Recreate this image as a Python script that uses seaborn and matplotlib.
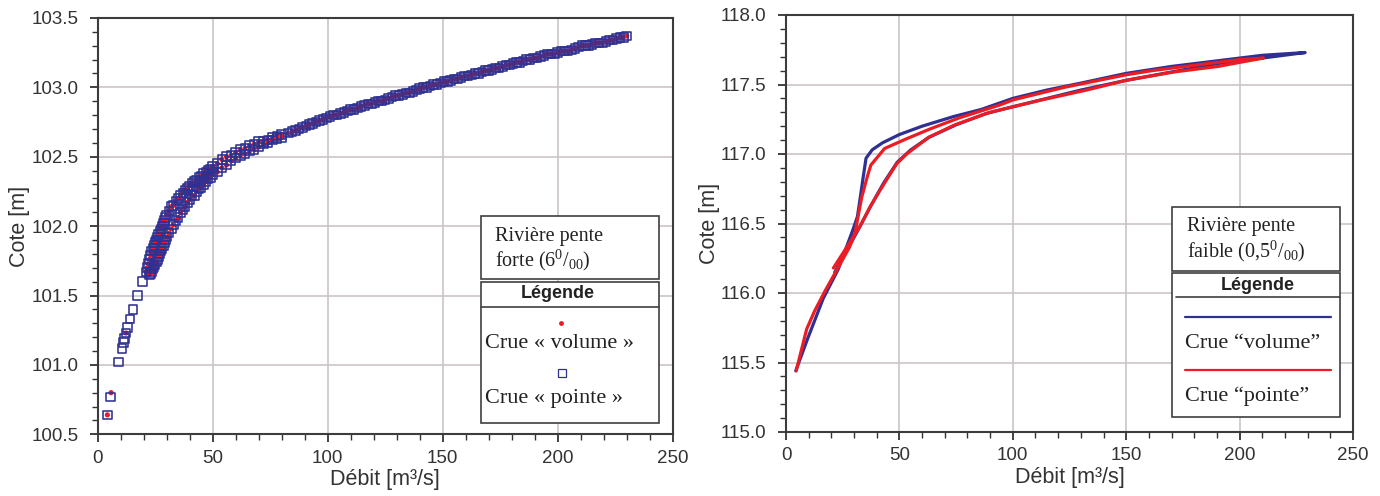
"""
rating curves: Cote vs Débit, steep river (points) and gentle river (loops)
"""

import matplotlib

matplotlib.use("Agg")
import matplotlib.pyplot as plt
import pandas as pd
import seaborn as sns
from matplotlib.lines import Line2D
from matplotlib.patches import Rectangle
from matplotlib.ticker import FormatStrFormatter, MultipleLocator

########
# Data #
########

# steep river, rising limb (upper / left side of the band)
rise_q = [21.0, 21.5, 22.0, 22.5, 23.0, 23.5, 24.0, 24.5, 25.0, 25.5, 26.0, 26.5,
          27.0, 27.5, 28.0, 28.5, 29.0, 29.5, 30.0,
          31, 32, 33, 34, 35, 36, 37, 38, 39, 40, 41, 42, 43, 44, 45, 46, 47, 48, 49, 50,
          52, 54, 56, 58, 60, 62, 64, 66, 68, 70, 72, 74, 76, 78, 80,
          83, 86, 89, 92, 95, 98, 101, 104, 107, 110, 113, 116, 119, 122, 125, 128,
          131, 134, 137, 140, 143, 146, 149, 152, 155, 158, 161, 164, 167, 170, 173,
          176, 179, 182, 185, 188, 191, 194, 197, 200, 203, 206, 209, 212, 215, 218,
          221, 224, 227, 230]
rise_z = [101.67, 101.70, 101.73, 101.76, 101.79, 101.82, 101.84, 101.86, 101.88,
          101.90, 101.92, 101.94, 101.96, 101.98, 102.00, 102.02, 102.04, 102.06, 102.08,
          102.11, 102.14, 102.15, 102.18, 102.20, 102.22, 102.24, 102.26, 102.27, 102.29,
          102.31, 102.32, 102.33, 102.35, 102.36, 102.38, 102.39, 102.40, 102.41, 102.43,
          102.45, 102.48, 102.50, 102.51, 102.53, 102.55, 102.56, 102.58, 102.59, 102.61,
          102.61, 102.62, 102.64, 102.65, 102.66,
          102.67, 102.69, 102.71, 102.73, 102.75, 102.77, 102.79, 102.80, 102.82, 102.84,
          102.85, 102.87, 102.88, 102.90, 102.91, 102.93, 102.94, 102.96, 102.97, 102.99,
          103.00, 103.02, 103.03, 103.04, 103.06, 103.07, 103.08, 103.10, 103.11, 103.12,
          103.14, 103.15, 103.16, 103.18, 103.19, 103.20, 103.21, 103.23, 103.24, 103.25,
          103.26, 103.27, 103.29, 103.30, 103.31, 103.32, 103.33, 103.34, 103.36, 103.37]

# steep river, falling limb (lower / right side of the band)
fall_q = [22.5, 23.0, 23.5, 24.0, 24.5, 25.0, 25.5, 26.0, 26.5, 27.0, 27.5, 28.0,
          28.5, 29.0, 29.5, 30.0,
          31, 32, 33, 34, 35, 36, 37, 38, 39, 40, 41, 42, 43, 44, 45, 46, 47, 48, 49, 50,
          52, 54, 56, 58, 60, 62, 64, 66, 68, 70, 72, 74, 76, 78, 80,
          84.5, 87.5, 90.5, 93.5, 96.5, 99.5, 102.5, 105.5, 108.5, 111.5, 114.5, 117.5,
          120.5, 123.5, 126.5, 129.5, 132.5, 135.5, 138.5, 141.5, 144.5, 147.5, 150.5,
          153.5, 156.5, 159.5, 162.5, 165.5, 168.5, 171.5, 174.5, 177.5, 180.5, 183.5,
          186.5, 189.5, 192.5, 195.5, 198.5, 201.5, 204.5, 207.5, 210.5, 213.5, 216.5,
          219.5, 222.5, 225.5, 228.5]
fall_z = [101.65, 101.66, 101.67, 101.69, 101.71, 101.72, 101.74, 101.76, 101.78,
          101.80, 101.82, 101.84, 101.86, 101.88, 101.90, 101.92,
          101.95, 101.98, 102.01, 102.04, 102.06, 102.10, 102.12, 102.14, 102.17, 102.19,
          102.22, 102.22, 102.25, 102.27, 102.28, 102.30, 102.32, 102.34, 102.35, 102.37,
          102.39, 102.42, 102.44, 102.47, 102.49, 102.51, 102.52, 102.54, 102.55, 102.57,
          102.59, 102.60, 102.62, 102.63, 102.64,
          102.68, 102.70, 102.72, 102.74, 102.76, 102.78, 102.80, 102.81, 102.83, 102.84,
          102.86, 102.88, 102.89, 102.90, 102.92, 102.94, 102.95, 102.96, 102.98, 103.00,
          103.01, 103.02, 103.04, 103.05, 103.06, 103.08, 103.09, 103.10, 103.12, 103.13,
          103.14, 103.16, 103.17, 103.18, 103.20, 103.21, 103.22, 103.24, 103.24, 103.26,
          103.26, 103.28, 103.30, 103.30, 103.32, 103.32, 103.34, 103.35, 103.36]

# steep river, low-flow points
vol_q_low = [4.2, 5.8, 12.3]
vol_z_low = [100.64, 100.80, 101.23]
pte_q_low = [4.2, 5.6, 9.1, 10.6, 11.1, 11.7, 12.3, 12.9, 14.0, 15.3, 17.4, 19.6]
pte_z_low = [100.64, 100.77, 101.02, 101.12, 101.16, 101.19, 101.23, 101.27, 101.33,
             101.40, 101.50, 101.60]

# gentle river, rising then falling limb
loop_vol_q = [4.3, 9.5, 16.4, 23.0, 29.4, 31.5, 32.6, 34.0, 35.3, 38.0, 42.5, 50.0,
              60.0, 74.0, 86.0, 100.0, 115.0, 130.0, 150.0, 170.0, 190.0, 210.0, 228.9,
              210.0, 190.0, 170.0, 150.0, 130.0, 115.0, 100.0, 88.0, 75.0, 63.0, 55.0,
              49.0, 43.0, 37.5, 33.0, 27.0, 21.5]
loop_vol_z = [115.44, 115.67, 115.96, 116.17, 116.45, 116.55, 116.67, 116.83, 116.97,
              117.03, 117.08, 117.14, 117.20, 117.27, 117.32, 117.40, 117.46, 117.51,
              117.58, 117.63, 117.67, 117.71, 117.73,
              117.69, 117.65, 117.59, 117.53, 117.46, 117.40, 117.34, 117.29, 117.21,
              117.12, 117.03, 116.94, 116.79, 116.63, 116.49, 116.31, 116.15]
loop_pte_q = [4.5, 9.1, 12.6, 17.4, 22.2, 28.0, 30.4, 33.4, 35.9, 37.4, 43.5, 53.2,
              63.5, 76.4, 93.8, 100.3, 122.8, 150.0, 161.5, 180.9, 200.3, 210.5,
              200.3, 190.5, 171.0, 150.0, 132.5, 113.0, 100.3, 90.0, 74.5, 62.9, 53.2,
              48.8, 41.5, 37.1, 32.6, 26.8, 20.9]
loop_pte_z = [115.44, 115.74, 115.87, 116.02, 116.16, 116.33, 116.43, 116.69, 116.84,
              116.92, 117.04, 117.11, 117.18, 117.26, 117.35, 117.39, 117.48, 117.57,
              117.60, 117.64, 117.68, 117.69,
              117.66, 117.63, 117.59, 117.53, 117.46, 117.39, 117.34, 117.30, 117.21,
              117.12, 117.00, 116.93, 116.74, 116.62, 116.48, 116.33, 116.18]

steepVol = pd.DataFrame({"q": vol_q_low + rise_q + fall_q,
                         "z": vol_z_low + rise_z + fall_z})
steepPte = pd.DataFrame({"q": pte_q_low + rise_q + fall_q,
                         "z": pte_z_low + rise_z + fall_z})
gentleVol = pd.DataFrame({"q": loop_vol_q, "z": loop_vol_z})
gentlePte = pd.DataFrame({"q": loop_pte_q, "z": loop_pte_z})

#########
# Style #
#########

BLUE = "#2e3192"
RED = "#ec1c24"
GRID = "#cdc5c5"
INK = "#333333"
W, H = 1380, 496

sns.set_style("white")
plt.rcParams["font.family"] = ["Liberation Sans", "DejaVu Sans"]
plt.rcParams["mathtext.fontset"] = "custom"
plt.rcParams["mathtext.rm"] = "Liberation Serif"
plt.rcParams["mathtext.it"] = "Liberation Serif:italic"
plt.rcParams["mathtext.bf"] = "Liberation Serif:bold"

fig = plt.figure(figsize=(W / 100, H / 100), dpi=100)
ax1 = fig.add_axes([97.7 / W, 1 - 434.3 / H, 575 / W, 416.4 / H])
ax2 = fig.add_axes([786 / W, 1 - 432 / H, 567 / W, 417 / H])


def style_axis(ax, ylim):
    ax.set_xlim(0, 250)
    ax.set_ylim(*ylim)
    ax.xaxis.set_major_locator(MultipleLocator(50))
    ax.xaxis.set_minor_locator(MultipleLocator(10))
    ax.yaxis.set_major_locator(MultipleLocator(0.5))
    ax.yaxis.set_minor_locator(MultipleLocator(0.1))
    ax.yaxis.set_major_formatter(FormatStrFormatter("%.1f"))
    ax.set_axisbelow(True)
    ax.grid(True, which="major", color=GRID, lw=1.2)
    ax.tick_params(which="major", direction="out", length=6, width=1.3, color=INK,
                   labelsize=13.5, labelcolor=INK, left=True, bottom=True)
    ax.tick_params(which="minor", direction="out", length=4, width=1.0, color=INK,
                   left=True, bottom=True)
    ax.tick_params(axis="x", pad=5)
    ax.tick_params(axis="y", pad=8)
    for sp in ax.spines.values():
        sp.set_color("#3c3c3c")
        sp.set_linewidth(1.5)
    ax.set_xlabel("Débit [m³/s]", fontsize=15.5, color=INK, labelpad=2)
    ax.set_ylabel("Cote [m]", fontsize=15.5, color=INK, labelpad=1)


#########
# Plots #
#########

sns.scatterplot(data=steepVol, x="q", y="z", ax=ax1, marker="o", s=14,
                color=RED, edgecolor="none", zorder=3)
sns.scatterplot(data=steepPte, x="q", y="z", ax=ax1, marker="s", s=38,
                facecolor="none", edgecolor=BLUE, linewidth=1.15, zorder=4)
style_axis(ax1, (100.5, 103.5))

sns.lineplot(data=gentleVol, x="q", y="z", ax=ax2, sort=False, estimator=None,
             color=BLUE, lw=2.3, zorder=3)
sns.lineplot(data=gentlePte, x="q", y="z", ax=ax2, sort=False, estimator=None,
             color=RED, lw=2.3, zorder=4)
style_axis(ax2, (115.0, 118.0))


# boxes drawn in figure pixels
def box(x0, y0, x1, y1):
    fig.add_artist(Rectangle((x0 / W, 1 - y1 / H), (x1 - x0) / W, (y1 - y0) / H,
                             transform=fig.transFigure, facecolor="white",
                             edgecolor="#404040", lw=1.2, zorder=5))


def hline(x0, x1, y, **kw):
    fig.add_artist(Line2D([x0 / W, x1 / W], [1 - y / H, 1 - y / H],
                          transform=fig.transFigure, zorder=6, **kw))


def txt(x, y, s, **kw):
    fig.text(x / W, 1 - y / H, s, zorder=7, va="center", color="#222222", **kw)


serif = dict(family="Liberation Serif")

# left legend
box(480.7, 215.7, 659, 279)
txt(495, 236, "Rivière pente", fontsize=14.5, **serif)
txt(495, 260, "forte (6$^{0}$/$_{00}$)", fontsize=14.5, **serif)
box(480.7, 281.7, 659, 422.7)
hline(480.7, 659, 306.7, color="#404040", lw=1.2)
txt(558, 293.5, "Légende", fontsize=13, fontweight="bold", ha="center")
fig.add_artist(Line2D([560.7 / W], [1 - 323.3 / H], transform=fig.transFigure,
                      marker="o", ms=3.5, color=RED, mec="none", zorder=6))
txt(485, 343.3, "Crue « volume »", fontsize=16, **serif)
fig.add_artist(Line2D([561.7 / W], [1 - 373.3 / H], transform=fig.transFigure,
                      marker="s", ms=6, mfc="none", mec=BLUE, mew=0.9, zorder=6))
txt(485, 399, "Crue « pointe »", fontsize=16, **serif)

# right legend
box(1172.3, 206.7, 1340, 270.7)
txt(1186.7, 227, "Rivière pente", fontsize=14.5, **serif)
txt(1186.7, 251, "faible (0,5$^{0}$/$_{00}$)", fontsize=14.5, **serif)
box(1172.3, 272.7, 1340, 416.7)
hline(1176, 1340, 297.3, color="#404040", lw=1.2)
txt(1258, 285, "Légende", fontsize=13, fontweight="bold", ha="center")
hline(1185, 1330.7, 317.3, color=BLUE, lw=1.6)
txt(1185, 343.3, "Crue “volume”", fontsize=16, **serif)
hline(1185, 1330.7, 370, color=RED, lw=1.6)
txt(1185, 396.7, "Crue “pointe”", fontsize=16, **serif)

fig.savefig("out.png", dpi=100)
